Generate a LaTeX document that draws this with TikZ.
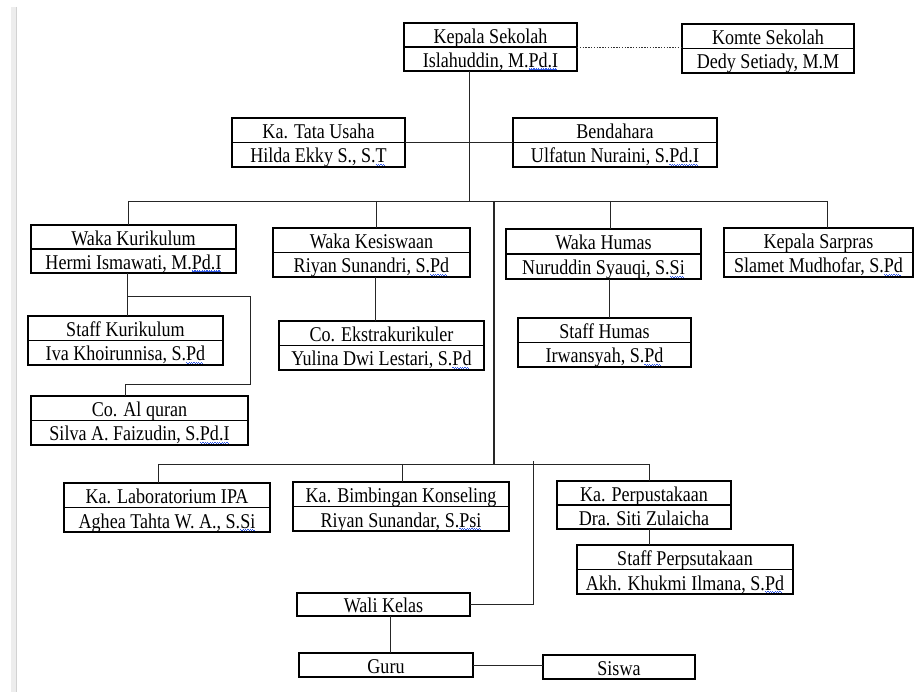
\documentclass[tikz,border=0pt]{standalone}
\usepackage{fontspec}
\setmainfont{Liberation Serif}[FakeStretch=0.86]
\usetikzlibrary{calc}
\definecolor{sqblue}{RGB}{50,90,230}
\newcommand\sq[1]{\setbox0=\hbox{#1}\rlap{\textcolor{sqblue}{\raisebox{-3.2pt}{\leaders\hbox to 2.4pt{\rule[0.9pt]{1.2pt}{1.1pt}\rule{1.2pt}{1.1pt}}\hskip\wd0}}}\box0}
\tikzset{
  ob/.style={draw=black, line width=1.25pt, rectangle, inner sep=0pt, outer sep=0pt},
  dv/.style={line width=1.25pt, black},
  tx/.style={inner sep=0pt, outer sep=0pt, font=\fontsize{21}{23}\selectfont, text height=16.5pt, text depth=0pt, anchor=center},
  ln/.style={line width=0.9pt, black!85},
  dotline/.style={line width=0.9pt, black!80, dash pattern=on 1.4pt off 1.4pt}
}
% two-row box: name, x1, y1, x2, y2, top text, bottom text
\newcommand\obox[7]{%
  \node[ob, minimum width={(#4)-(#2)}, minimum height={(#5)-(#3)}] (#1) at ({((#2)+(#4))/2},{((#3)+(#5))/2}) {};
  \draw[dv] (#1.west) -- (#1.east);
  \node[tx] (#1-a) at ($(#1.north)!0.5!(#1.center)$) {#6};
  \node[tx] (#1-b) at ($(#1.south)!0.5!(#1.center)$) {#7};}
% one-row box
\newcommand\onebox[6]{%
  \node[ob, minimum width={(#4)-(#2)}, minimum height={(#5)-(#3)}] (#1) at ({((#2)+(#4))/2},{((#3)+(#5))/2}) {};
  \node[tx] (#1-a) at (#1.center) {#6};}
\begin{document}
\begin{tikzpicture}[x=1pt, y=-1pt]
\useasboundingbox (0,0) rectangle (916,692);
% page margin bar
\fill[gray!14] (11,7) rectangle (17,692);
\draw[gray!35, line width=1pt] (16.5,7) -- (16.5,692);

% boxes
\obox{ks}{404}{23}{577}{71}{Kepala Sekolah}{Islahuddin, M.\sq{Pd.I}}
\obox{kom}{682}{24}{854}{73}{Komte Sekolah}{Dedy Setiady, M.M}
\obox{tu}{232}{118}{405}{167}{Ka. Tata Usaha}{Hilda Ekky S., S.\sq{T}}
\obox{bd}{513}{118}{717}{167}{Bendahara}{Ulfatun Nuraini, S.\sq{Pd.I}}
\obox{wk}{31}{225}{236}{273}{Waka Kurikulum}{Hermi Ismawati, M.\sq{Pd.I}}
\obox{wks}{273}{228}{470}{277}{Waka Kesiswaan}{Riyan Sunandri, S.\sq{Pd}}
\obox{wh}{506}{229}{701}{279}{Waka Humas}{Nuruddin Syauqi, S.\sq{Si}}
\obox{sp}{724}{228}{913}{277}{Kepala Sarpras}{Slamet Mudhofar, S.\sq{Pd}}
\obox{sk}{28}{316}{223}{365}{Staff Kurikulum}{Iva Khoirunnisa, S.\sq{Pd}}
\obox{aq}{31}{396}{248}{445}{Co. Al quran}{Silva A. Faizudin, S.\sq{Pd.I}}
\obox{ek}{279}{321}{484}{370}{Co. Ekstrakurikuler}{Yulina Dwi Lestari, S.\sq{Pd}}
\obox{sh}{518}{318}{691}{367}{Staff Humas}{Irwansyah, S.\sq{Pd}}
\obox{lab}{64}{483}{270}{532}{Ka. Laboratorium IPA}{Aghea Tahta W. A., S.\sq{Si}}
\obox{bk}{293}{482}{509}{531}{Ka. Bimbingan Konseling}{Riyan Sunandar, S.\sq{Psi}}
\obox{kp}{557}{481}{731}{529}{Ka. Perpustakaan}{Dra. Siti Zulaicha}
\obox{spp}{577}{545}{793}{594}{Staff Perpsutakaan}{Akh. Khukmi Ilmana, S.\sq{Pd}}
\onebox{wali}{297}{593}{470}{616}{Wali Kelas}
\onebox{guru}{299}{653}{473}{677}{Guru}
\onebox{sis}{543}{655}{695}{679}{Siswa}

% coordinates of junctions
\coordinate (top) at (469,201);
\coordinate (b1l) at (128,201);
\coordinate (b1r) at (827,201);
\coordinate (d2) at (376,201);
\coordinate (d3) at (610,201);
\coordinate (d4) at (494,201);
\coordinate (b2c) at (494,464);
\coordinate (b2l) at (158,464);
\coordinate (b2r) at (649,464);
\coordinate (e2) at (402,464);
\coordinate (w1) at (533,461);
\coordinate (g1) at (390,640);
\coordinate (k1) at (127,296);
\coordinate (k2) at (250,296);
\coordinate (k3) at (250,384);
\coordinate (k4) at (125,384);
\coordinate (k5) at (375,300);
\coordinate (k6) at (609,300);

% connectors
\draw[dotline] (ks.east) -- (ks.east -| kom.west);
\draw[ln] (ks.south -| top) -- (top);
\draw[ln] (tu.east) -- (bd.west);
\draw[ln] (b1l) -- (b1r);
\draw[ln] (b1l) -- (b1l |- wk.north);
\draw[ln] (d2) -- (d2 |- wks.north);
\draw[ln] (d3) -- (d3 |- wh.north);
\draw[ln] (b1r) -- (b1r |- sp.north);
\draw[ln, line width=1.1pt] (d4) -- (b2c);
\draw[ln] (wk.south -| k1) -- (k1) -- (k2) -- (k3) -- (k4) -- (aq.north -| k4);
\draw[ln] (k1) -- (sk.north -| k1);
\draw[ln] (wks.south -| k5) -- (ek.north -| k5);
\draw[ln] (wh.south -| k6) -- (sh.north -| k6);
\draw[ln] (b2l) -- (b2r);
\draw[ln] (b2l) -- (b2l |- lab.north);
\draw[ln] (e2) -- (e2 |- bk.north);
\draw[ln] (b2r) -- (b2r |- kp.north);
\draw[ln] (kp.south -| b2r) -- (spp.north -| b2r);
\draw[ln] (w1) |- (wali.east);
\draw[ln] (wali.south -| g1) -- (guru.north -| g1);
\draw[ln] (guru.east) -- (guru.east -| sis.west);
\end{tikzpicture}
\end{document}
